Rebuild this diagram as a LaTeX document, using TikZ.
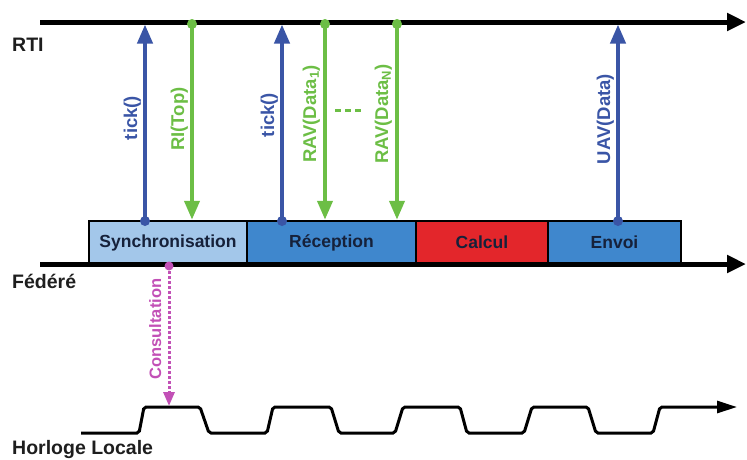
\documentclass[tikz,border=0pt]{standalone}
\usepackage{fontspec}
\setmainfont{Liberation Sans}
\usetikzlibrary{arrows.meta}
\definecolor{callblue}{HTML}{3A55A6}
\definecolor{callgreen}{HTML}{6CBE45}
\definecolor{consmag}{HTML}{C250B6}
\definecolor{synclight}{HTML}{A3C7EA}
\definecolor{phaseblue}{HTML}{3F87CD}
\definecolor{calcred}{HTML}{E3262B}
\definecolor{navytext}{HTML}{16213A}
\definecolor{sidetext}{HTML}{1E1E1E}
\tikzset{
  timeaxis/.style={line width=5pt, -{Triangle[length=19pt,width=17pt]}},
  phasebox/.style={draw=black, line width=2.5pt, minimum height=43pt, inner sep=0pt,
    font=\fontsize{17.5}{20}\selectfont\bfseries, text=navytext},
  upcall/.style={draw=callblue, line width=4pt, -{Triangle[length=19pt,width=15pt]}},
  downcall/.style={draw=callgreen, line width=4pt, -{Triangle[length=19pt,width=15pt]}},
  bluedot/.style={circle, fill=callblue, minimum size=10pt, inner sep=0pt},
  greendot/.style={circle, fill=callgreen, minimum size=10pt, inner sep=0pt},
  magdot/.style={circle, fill=consmag, minimum size=9pt, inner sep=0pt},
  vlabel/.style={rotate=90, anchor=base, inner sep=0pt, font=\fontsize{18.5}{21}\selectfont\bfseries},
  sidelabel/.style={inner sep=0pt, font=\fontsize{19.5}{22}\selectfont\bfseries, text=sidetext},
  clockline/.style={line width=3pt, rounded corners=2pt, -{Triangle[length=20pt,width=12pt]}},
  consarrow/.style={draw=consmag, line width=3pt, dash pattern=on 3pt off 2pt, -{Triangle[length=14pt,width=11pt]}}
}
\begin{document}
\begin{tikzpicture}[x=1pt,y=-1pt]
\useasboundingbox (0,0) rectangle (747,459);

% axes end points
\coordinate (rtiS) at (40,22);
\coordinate (rtiE) at (746,22);
\coordinate (fedS) at (40,264);
\coordinate (fedE) at (746,264);

% phase boxes
\node[phasebox, fill=synclight, minimum width=158pt] (sync) at (168,242.5) {Synchronisation};
\node[phasebox, fill=phaseblue, minimum width=169pt] (recep) at (331.5,242.5) {Réception};
\node[phasebox, fill=calcred, minimum width=132pt] (calc) at (482,242.5) {Calcul};
\node[phasebox, fill=phaseblue, minimum width=133pt] (envoi) at (614.5,242.5) {Envoi};

\draw[timeaxis] (rtiS) -- (rtiE);
\draw[timeaxis] (fedS) -- (fedE);

% side labels
\node[sidelabel, anchor=west] (lrti) at (12,45) {RTI};
\node[sidelabel, anchor=west] (lfed) at (12,281.5) {Fédéré};
\node[sidelabel, anchor=base west] (lclk) at (12,454) {Horloge Locale};

% RTI contact points
\coordinate (t1top) at (145,24.5);
\coordinate (ri) at (192,24);
\coordinate (t2top) at (282,24.5);
\coordinate (rav1) at (325,24);
\coordinate (ravn) at (397,24);
\coordinate (uavtop) at (618,24.5);

% tick() 1
\node[bluedot] (t1dot) at (145,221) {};
\draw[upcall] (t1dot.center) -- (t1top);
\node[vlabel, text=callblue] (lt1) at (137,118) {tick()};

% RI(Top)
\node[greendot] (ridot) at (ri) {};
\draw[downcall] (ridot.center) -- (ri |- sync.north);
\node[vlabel, text=callgreen] (lri) at (184,119) {RI(Top)};

% tick() 2
\node[bluedot] (t2dot) at (282,221) {};
\draw[upcall] (t2dot.center) -- (t2top);
\node[vlabel, text=callblue] (lt2) at (274,115) {tick()};

% RAV(Data1)
\node[greendot] (rav1dot) at (rav1) {};
\draw[downcall] (rav1dot.center) -- (rav1 |- recep.north);
\node[vlabel, text=callgreen] (lrav1) at (316,114) {RAV(Data\textsubscript{1})};

% dots between
\coordinate (dashS) at (335,110);
\coordinate (dashE) at (361,110);
\draw[callgreen, line width=3pt, dash pattern=on 6pt off 4pt] (dashS) -- (dashE);

% RAV(DataN)
\node[greendot] (ravndot) at (ravn) {};
\draw[downcall] (ravndot.center) -- (ravn |- recep.north);
\node[vlabel, text=callgreen] (lravn) at (388,114) {RAV(Data\textsubscript{N})};

% UAV(Data)
\node[bluedot] (uavdot) at (618,221) {};
\draw[upcall] (uavdot.center) -- (uavtop);
\node[vlabel, text=callblue] (luav) at (610,119) {UAV(Data)};

% clock
\coordinate (clkS) at (81,433);
\coordinate (clkE) at (737,407);
\draw[clockline] (clkS) -- (139,433) -- (144,407) -- (200,407) -- (209,433)
  -- (267,433) -- (273,407) -- (331,407) -- (339,433)
  -- (395,433) -- (403,407) -- (460,407) -- (467,433)
  -- (524,433) -- (532,407) -- (588,407) -- (596,433)
  -- (653,433) -- (660,407) -- (clkE);

% consultation
\node[magdot] (cdot) at (169,266) {};
\coordinate (ctip) at (169,406);
\draw[consarrow] (cdot.center) -- (ctip);
\node[vlabel, text=consmag, font=\fontsize{16.5}{19}\selectfont\bfseries] (lcons) at (161,329) {Consultation};
\end{tikzpicture}
\end{document}
